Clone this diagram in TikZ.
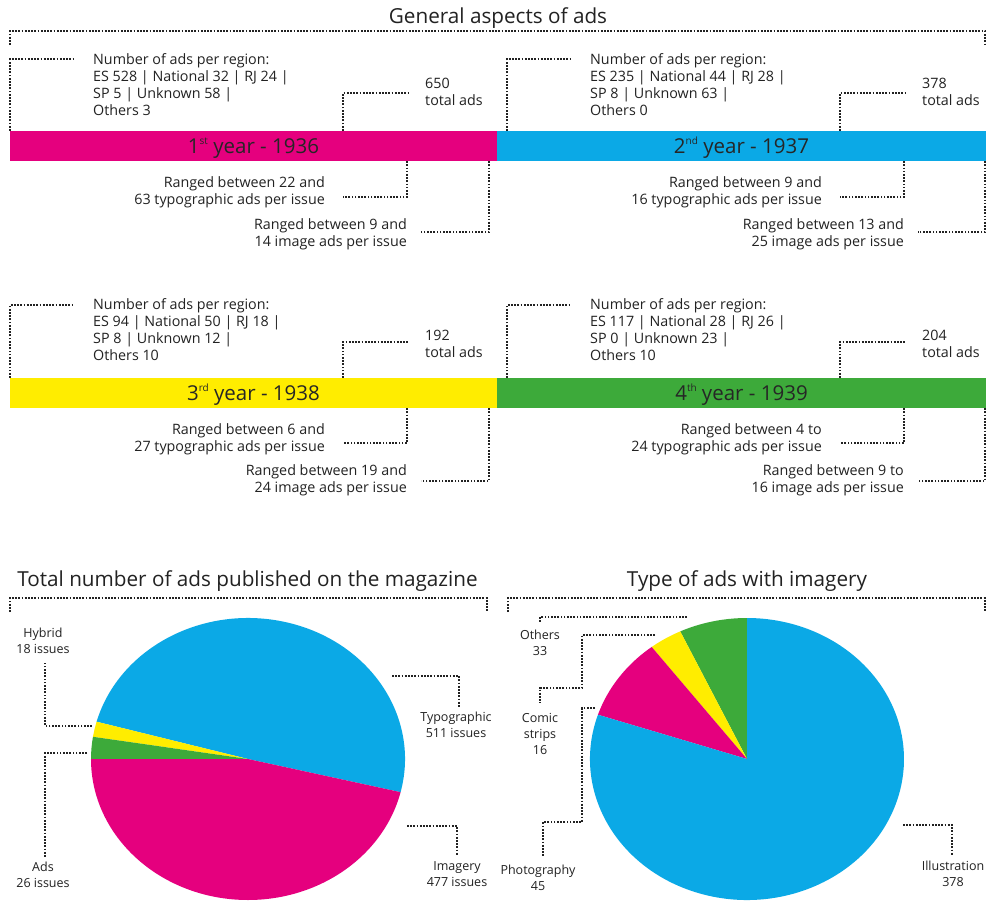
\documentclass[tikz,border=0pt]{standalone}
\usepackage{fontspec}
\setmainfont{Open Sans}
\definecolor{cmag}{HTML}{E5007E}
\definecolor{ccyan}{HTML}{0BA9E6}
\definecolor{cyel}{HTML}{FFED00}
\definecolor{cgreen}{HTML}{3DAA3A}
\definecolor{ctext}{HTML}{222222}
\newcommand\myord[1]{\raisebox{0.42em}{\fontsize{10}{10}\selectfont #1}}
\tikzset{
  dotln/.style={line width=1.7pt, dash pattern=on 1.7pt off 1.5pt, draw=ctext},
  body/.style={font=\fontsize{14.3}{17}\selectfont, text=ctext, inner sep=0pt},
  bodyl/.style={body, align=left, anchor=base west},
  bodyr/.style={body, align=right, anchor=base east},
  small/.style={font=\fontsize{12.5}{16}\selectfont, text=ctext, inner sep=0pt, align=center, anchor=base},
  ttl/.style={font=\fontsize{20.7}{24}\selectfont, text=ctext, inner sep=0pt, anchor=base},
  yearbar/.style={minimum height=30pt, inner sep=0pt, font=\fontsize{20.5}{24}\selectfont, text=black!85, text height=14.6pt, text depth=0pt},
}
\begin{document}
\begin{tikzpicture}[x=1pt,y=-1pt]
\useasboundingbox (0,0) rectangle (988,901);
\fill[white] (0,0) rectangle (988,901);

% ---------- general title ----------
\node[ttl] (gen) at (498,23.5) {General aspects of ads};
\draw[dotln] (10,45) |- (985,31) -- (985,45);

% ---------- year bars ----------
\node[yearbar, fill=cmag, minimum width=487pt] (bar1) at (253.5,146) {1\myord{st} year - 1936};
\node[yearbar, fill=ccyan, minimum width=489pt] (bar2) at (741.5,146) {2\myord{nd} year - 1937};
\node[yearbar, fill=cyel, minimum width=487pt] (bar3) at (253.5,393) {3\myord{rd} year - 1938};
\node[yearbar, fill=cgreen, minimum width=489pt] (bar4) at (741.5,393) {4\myord{th} year - 1939};

% ---------- panel 1 ----------
\node[bodyl] (reg1) at (93,115.5) {Number of ads per region:\\ES 528 | National 32 | RJ 24 |\\SP 5 | Unknown 58 |\\Others 3};
\node[bodyl] (tot1) at (425,105.5) {650\\total ads};
\node[bodyr] (typ1) at (325,204.5) {Ranged between 22 and\\63 typographic ads per issue};
\node[bodyr] (img1) at (407,246.5) {Ranged between 9 and\\14 image ads per issue};
\coordinate (r1e) at (74,59);
\coordinate (t1e) at (408,93);
\coordinate (y1e) at (343,197);
\coordinate (i1e) at (421,232);
\draw[dotln] (10,0 |- bar1.north) |- (r1e);
\draw[dotln] (343,0 |- bar1.north) |- (t1e);
\draw[dotln] (407,0 |- bar1.south) |- (y1e);
\draw[dotln] (489,0 |- bar1.south) |- (i1e);

% ---------- panel 2 ----------
\node[bodyl] (reg2) at (590,115.5) {Number of ads per region:\\ES 235 | National 44 | RJ 28 |\\SP 8 | Unknown 63 |\\Others 0};
\node[bodyl] (tot2) at (922,105.5) {378\\total ads};
\node[bodyr] (typ2) at (822,204.5) {Ranged between 9 and\\16 typographic ads per issue};
\node[bodyr] (img2) at (904,246.5) {Ranged between 13 and\\25 image ads per issue};
\coordinate (r2e) at (571,59);
\coordinate (t2e) at (905,93);
\coordinate (y2e) at (840,197);
\coordinate (i2e) at (918,232);
\draw[dotln] (507,0 |- bar2.north) |- (r2e);
\draw[dotln] (840,0 |- bar2.north) |- (t2e);
\draw[dotln] (904,0 |- bar2.south) |- (y2e);
\draw[dotln] (985,0 |- bar2.south) |- (i2e);

% ---------- panel 3 ----------
\node[bodyl] (reg3) at (93,360.5) {Number of ads per region:\\ES 94 | National 50 | RJ 18 |\\SP 8 | Unknown 12 |\\Others 10};
\node[bodyl] (tot3) at (425,357.5) {192\\total ads};
\node[bodyr] (typ3) at (325,451.5) {Ranged between 6 and\\27 typographic ads per issue};
\node[bodyr] (img3) at (407,492.5) {Ranged between 19 and\\24 image ads per issue};
\coordinate (r3e) at (74,305);
\coordinate (t3e) at (408,342);
\coordinate (y3e) at (343,443);
\coordinate (i3e) at (421,481);
\draw[dotln] (10,0 |- bar3.north) |- (r3e);
\draw[dotln] (343,0 |- bar3.north) |- (t3e);
\draw[dotln] (407,0 |- bar3.south) |- (y3e);
\draw[dotln] (489,0 |- bar3.south) |- (i3e);

% ---------- panel 4 ----------
\node[bodyl] (reg4) at (590,360.5) {Number of ads per region:\\ES 117 | National 28 | RJ 26 |\\SP 0 | Unknown 23 |\\Others 10};
\node[bodyl] (tot4) at (922,357.5) {204\\total ads};
\node[bodyr] (typ4) at (822,451.5) {Ranged between 4 to\\24 typographic ads per issue};
\node[bodyr] (img4) at (904,492.5) {Ranged between 9 to\\16 image ads per issue};
\coordinate (r4e) at (571,305);
\coordinate (t4e) at (905,342);
\coordinate (y4e) at (840,443);
\coordinate (i4e) at (918,481);
\draw[dotln] (507,0 |- bar4.north) |- (r4e);
\draw[dotln] (840,0 |- bar4.north) |- (t4e);
\draw[dotln] (904,0 |- bar4.south) |- (y4e);
\draw[dotln] (985,0 |- bar4.south) |- (i4e);

% ---------- bottom titles ----------
\node[ttl] (tnum) at (247.5,586) {Total number of ads published on the magazine};
\node[ttl] (ttype) at (747,586) {Type of ads with imagery};
\draw[dotln] (10,612) |- (487,598) -- (487,612);
\draw[dotln] (508,612) |- (985,598) -- (985,612);

% ---------- pie 1 ----------
\begin{scope}[shift={(248,759)}, x=157pt, y=141pt]
  \fill[ccyan] (0,0) -- (-13.605:1) arc[start angle=-13.605, end angle=164.651, radius=1] -- cycle;
  \fill[cyel] (0,0) -- (164.651:1) arc[start angle=164.651, end angle=170.930, radius=1] -- cycle;
  \fill[cgreen] (0,0) -- (170.930:1) arc[start angle=170.930, end angle=180, radius=1] -- cycle;
  \fill[cmag] (0,0) -- (180:1) arc[start angle=180, end angle=346.395, radius=1] -- cycle;
\end{scope}
\node[small] (hyb) at (43,653) {Hybrid\\18 issues};
\node[small] (ads) at (43,887) {Ads\\26 issues};
\node[small] (typo) at (456,737) {Typographic\\511 issues};
\node[small] (imag) at (457,886) {Imagery\\477 issues};
\coordinate (hybs) at (92,726);
\coordinate (hybe) at (45,662);
\coordinate (adss) at (87,753);
\coordinate (adse) at (45,857);
\coordinate (typs) at (392,676);
\coordinate (type) at (459,707);
\coordinate (imas) at (407,826);
\coordinate (imae) at (457,855);
\draw[dotln] (hybs) -| (hybe);
\draw[dotln] (adss) -| (adse);
\draw[dotln] (typs) -| (type);
\draw[dotln] (imas) -| (imae);

% ---------- pie 2 ----------
\begin{scope}[shift={(747,759)}, x=157pt, y=141pt]
  \fill[cgreen] (0,0) -- (90:1) arc[start angle=90, end angle=115.169, radius=1] -- cycle;
  \fill[cyel] (0,0) -- (115.169:1) arc[start angle=115.169, end angle=127.373, radius=1] -- cycle;
  \fill[cmag] (0,0) -- (127.373:1) arc[start angle=127.373, end angle=161.695, radius=1] -- cycle;
  \fill[ccyan] (0,0) -- (161.695:1) arc[start angle=161.695, end angle=450, radius=1] -- cycle;
\end{scope}
\node[small] (oth) at (540,655) {Others\\33};
\node[small] (com) at (540,754) {Comic\\strips\\16};
\node[small] (pho) at (538,890) {Photography\\45};
\node[small] (ill) at (953,886) {Illustration\\378};
\coordinate (oths) at (687,617);
\coordinate (othe) at (540,623);
\coordinate (coms) at (655,635);
\coordinate (comm) at (582,688);
\coordinate (come) at (540,703);
\coordinate (phos) at (595,708);
\coordinate (phom) at (582,822);
\coordinate (phoe) at (543,857);
\coordinate (ills) at (903,825);
\coordinate (ille) at (952,855);
\draw[dotln] (oths) -| (othe);
\draw[dotln] (coms) -| (comm) -| (come);
\draw[dotln] (phos) -| (phom) -| (phoe);
\draw[dotln] (ills) -| (ille);
\end{tikzpicture}
\end{document}
